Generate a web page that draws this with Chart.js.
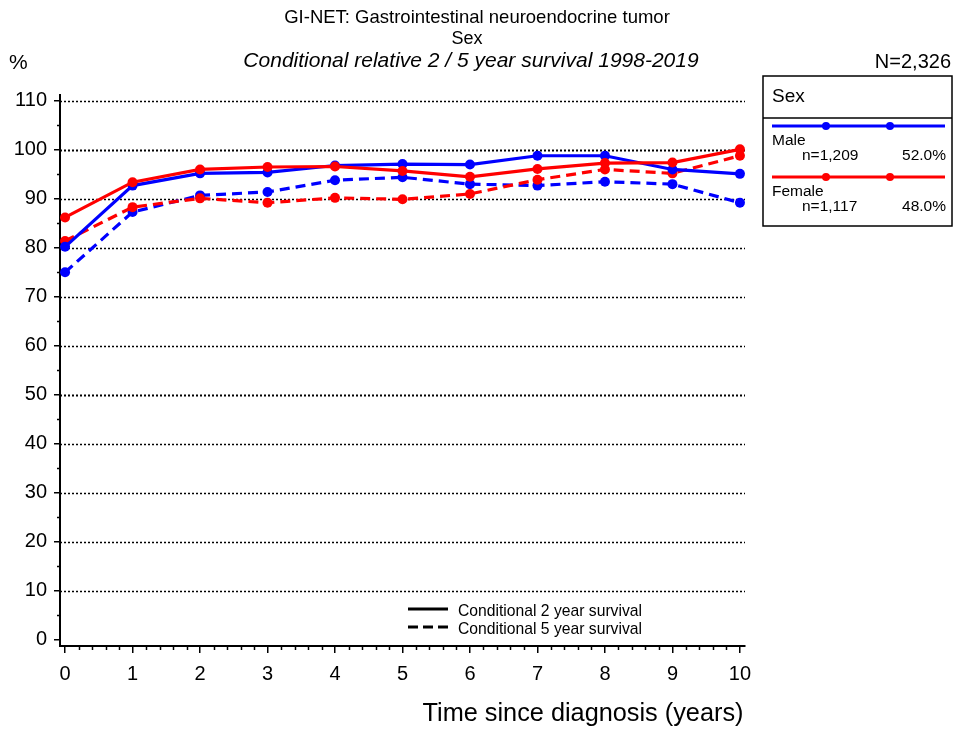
<!DOCTYPE html>
<html>
<head>
<meta charset="utf-8">
<script src="https://cdn.jsdelivr.net/npm/chart.js@4.4.0/dist/chart.umd.min.js"></script>
<style>
  html, body { margin: 0; padding: 0; background: #fff; }
  #wrap { width: 955px; height: 731px; }
</style>
</head>
<body>
<div id="wrap"><canvas id="chart" width="955" height="731"></canvas></div>
<script>
// years since diagnosis
const years = [0, 1, 2, 3, 4, 5, 6, 7, 8, 9, 10];

// conditional 2 year survival (%)
const male2 = [80.2, 92.7, 95.2, 95.4, 96.8, 97.1, 97.0, 98.8, 98.8, 96.0, 95.1];
const female2 = [86.2, 93.4, 96.0, 96.5, 96.6, 95.7, 94.5, 96.1, 97.3, 97.4, 100.1];

// conditional 5 year survival (%)
const male5 = [75.0, 87.3, 90.7, 91.4, 93.8, 94.4, 93.0, 92.7, 93.5, 93.0, 89.2];
const female5 = [81.4, 88.3, 90.1, 89.2, 90.2, 89.9, 91.0, 93.9, 96.0, 95.2, 98.8];

const yTicks = [0, 10, 20, 30, 40, 50, 60, 70, 80, 90, 100, 110];
const gridValues = [10, 20, 30, 40, 50, 60, 70, 80, 90, 100, 110];

const BLUE = "#0000ff";
const RED = "#ff0000";
const FONT = "'Liberation Sans', Arial, sans-serif";

function series(label, data, color, dashed) {
  return {
    label: label,
    data: years.map((x, i) => ({ x: x, y: data[i] })),
    borderColor: color,
    backgroundColor: color,
    borderWidth: 3.2,
    borderDash: dashed ? [10, 6] : [],
    pointRadius: 5,
    pointBorderWidth: 0,
    tension: 0,
  };
}

const decor = {
  id: "decor",
  beforeDatasetsDraw(chart) {
    const ctx = chart.ctx;
    const x = chart.scales.x;
    const y = chart.scales.y;
    const area = chart.chartArea;
    ctx.save();
    ctx.strokeStyle = "#000";
    // dotted grid lines
    gridValues.forEach((v) => {
      const py = Math.round(y.getPixelForValue(v)) + 0.5;
      ctx.lineWidth = v === 50 || v === 100 ? 2 : 1.5;
      ctx.setLineDash([2, 2]);
      ctx.beginPath();
      ctx.moveTo(area.left, py);
      ctx.lineTo(area.right, py);
      ctx.stroke();
    });
    ctx.setLineDash([]);
    ctx.lineWidth = 1.5;
    // minor ticks
    for (let v = 5; v < 110; v += 10) {
      const py = Math.round(y.getPixelForValue(v)) + 0.5;
      ctx.beginPath();
      ctx.moveTo(area.left, py);
      ctx.lineTo(area.left - 3, py);
      ctx.stroke();
    }
    for (let i = 1; i < 50; i++) {
      if (i % 5 === 0) continue;
      const px = Math.round(x.getPixelForValue(i / 5)) + 0.5;
      ctx.beginPath();
      ctx.moveTo(px, area.bottom);
      ctx.lineTo(px, area.bottom + 4);
      ctx.stroke();
    }
    ctx.restore();
  },
  afterDraw(chart) {
    const ctx = chart.ctx;
    ctx.save();
    ctx.fillStyle = "#000";
    ctx.textBaseline = "middle";

    // titles
    ctx.textAlign = "center";
    ctx.font = "18.5px " + FONT;
    ctx.fillText("GI-NET: Gastrointestinal neuroendocrine tumor", 477, 18);
    ctx.font = "18px " + FONT;
    ctx.fillText("Sex", 467, 39);
    ctx.font = "italic 21px " + FONT;
    ctx.fillText("Conditional relative 2 / 5 year survival 1998-2019", 471, 61);
    ctx.textAlign = "left";
    ctx.font = "21px " + FONT;
    ctx.fillText("%", 9, 63);
    ctx.textAlign = "right";
    ctx.font = "20px " + FONT;
    ctx.fillText("N=2,326", 951, 62);

    // x axis title
    ctx.textAlign = "center";
    ctx.font = "25.3px " + FONT;
    ctx.fillText("Time since diagnosis (years)", 583, 714);

    // line style legend
    ctx.strokeStyle = "#000";
    ctx.lineWidth = 3;
    ctx.beginPath();
    ctx.moveTo(408, 609);
    ctx.lineTo(448, 609);
    ctx.stroke();
    ctx.setLineDash([10, 5]);
    ctx.beginPath();
    ctx.moveTo(408, 627);
    ctx.lineTo(448, 627);
    ctx.stroke();
    ctx.setLineDash([]);
    ctx.textAlign = "left";
    ctx.font = "15.7px " + FONT;
    ctx.fillText("Conditional 2 year survival", 458, 612);
    ctx.fillText("Conditional 5 year survival", 458, 630);

    // group legend box
    ctx.lineWidth = 1.5;
    ctx.strokeRect(763, 76, 189, 150);
    ctx.beginPath();
    ctx.moveTo(763, 118);
    ctx.lineTo(952, 118);
    ctx.stroke();
    ctx.font = "19px " + FONT;
    ctx.fillText("Sex", 772, 97);

    const groups = [
      { name: "Male", n: "n=1,209", pct: "52.0%", color: BLUE, y: 126 },
      { name: "Female", n: "n=1,117", pct: "48.0%", color: RED, y: 177 },
    ];
    groups.forEach((g) => {
      ctx.strokeStyle = g.color;
      ctx.fillStyle = g.color;
      ctx.lineWidth = 3;
      ctx.beginPath();
      ctx.moveTo(772, g.y);
      ctx.lineTo(945, g.y);
      ctx.stroke();
      [826, 890].forEach((cx) => {
        ctx.beginPath();
        ctx.arc(cx, g.y, 4, 0, Math.PI * 2);
        ctx.fill();
      });
      ctx.fillStyle = "#000";
      ctx.font = "15.5px " + FONT;
      ctx.textAlign = "left";
      ctx.fillText(g.name, 772, g.y + 15);
      ctx.fillText(g.n, 802, g.y + 30);
      ctx.textAlign = "right";
      ctx.fillText(g.pct, 946, g.y + 30);
    });
    ctx.restore();
  },
};

new Chart(document.getElementById("chart"), {
  type: "line",
  data: {
    datasets: [
      series("Female 2 year", female2, RED, false),
      series("Male 2 year", male2, BLUE, false),
      series("Female 5 year", female5, RED, true),
      series("Male 5 year", male5, BLUE, true),
    ],
  },
  options: {
    responsive: false,
    animation: false,
    layout: { padding: { left: 0, right: 210, top: 95, bottom: 0 } },
    plugins: {
      legend: { display: false },
      tooltip: { enabled: false },
    },
    scales: {
      x: {
        type: "linear",
        min: -0.075,
        max: 10.075,
        afterBuildTicks: (s) => {
          s.ticks = years.map((v) => ({ value: v }));
        },
        afterFit: (s) => {
          s.height = 85;
        },
        ticks: {
          color: "#000",
          font: { family: FONT, size: 20 },
          padding: 9,
          maxRotation: 0,
          autoSkip: false,
        },
        grid: {
          drawOnChartArea: false,
          drawTicks: true,
          tickLength: 7,
          color: "#000",
          lineWidth: 1.5,
        },
        border: { color: "#000", width: 2 },
      },
      y: {
        type: "linear",
        min: -1.3,
        max: 111.2,
        afterBuildTicks: (s) => {
          s.ticks = yTicks.map((v) => ({ value: v }));
        },
        afterFit: (s) => {
          s.width = 60;
        },
        ticks: {
          color: "#000",
          font: { family: FONT, size: 20 },
          padding: 7,
          autoSkip: false,
        },
        grid: {
          drawOnChartArea: false,
          drawTicks: true,
          tickLength: 6,
          color: "#000",
          lineWidth: 1.5,
        },
        border: { color: "#000", width: 2 },
      },
    },
  },
  plugins: [decor],
});
</script>
</body>
</html>
